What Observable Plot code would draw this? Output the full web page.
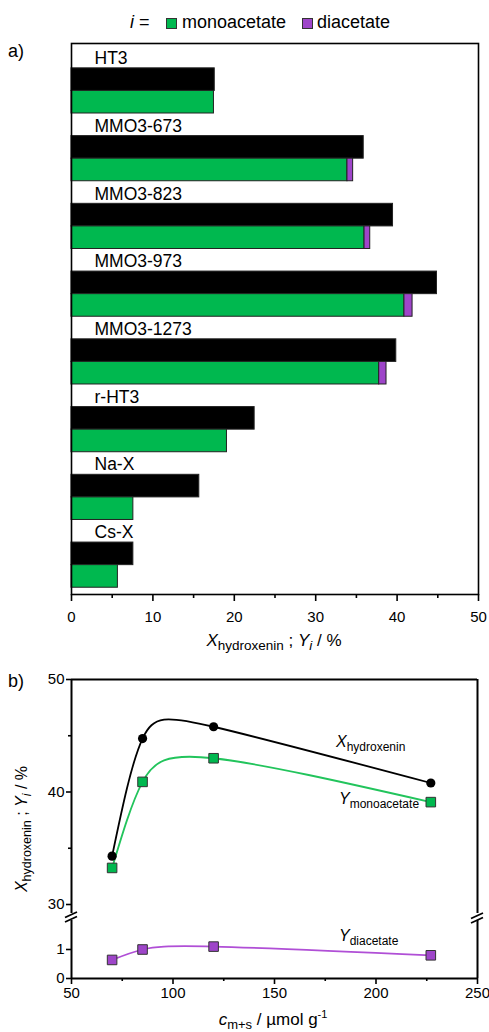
<!DOCTYPE html>
<html><head><meta charset="utf-8">
<script src="https://cdn.jsdelivr.net/npm/d3@7"></script>
<script src="https://cdn.jsdelivr.net/npm/@observablehq/plot@0.6"></script>
<style>
body{margin:0;background:#fff;}
#root{position:relative;width:489px;height:1032px;overflow:hidden;font-family:'Liberation Sans',Arial,sans-serif;color:#000;background:#fff;}
.t{position:absolute;white-space:nowrap;line-height:1;}
svg{overflow:visible;}
</style></head>
<body><div id="root"></div>
<script>
// ---- Panel a data ----
const categories = ["HT3","MMO3-673","MMO3-823","MMO3-973","MMO3-1273","r-HT3","Na-X","Cs-X"];
const conversion = [17.6, 35.9, 39.5, 44.9, 39.9, 22.5, 15.7, 7.6];
const monoYield  = [17.5, 33.9, 36.0, 40.9, 37.8, 19.1, 7.6, 5.7];
const diYield    = [0, 0.7, 0.7, 1.0, 0.9, 0, 0, 0];
const xTicksA = [0, 10, 20, 30, 40, 50];
const xMinorA = [5, 15, 25, 35, 45];

// ---- Panel b data ----
const cms   = [70, 85, 120, 227];
const xHyd  = [34.3, 44.75, 45.8, 40.8];
const yMono = [33.25, 40.9, 43.0, 39.1];
const yDi   = [0.64, 1.0, 1.1, 0.8];
const xTicksB = [50, 100, 150, 200, 250];
const xMinorB = [75, 125, 175, 225];
const yTicksUpper = [30, 40, 50];
const yMinorUpper = [35, 45];
const yTicksLower = [0, 1];

const GREEN = "#00b84f", PURPLE = "#9e45c9", GREEN_LINE = "#22c45c", PURPLE_LINE = "#b04fd6";
const root = document.getElementById("root");
const font = "'Liberation Sans',Arial,sans-serif";

function place(el, top, left) {
  el.style.position = "absolute"; el.style.top = top + "px"; el.style.left = left + "px";
  root.appendChild(el);
}
function text(html, x, baseline, size, anchor, extra) {
  const d = document.createElement("div");
  d.className = "t";
  d.style.fontSize = size + "px";
  d.innerHTML = html;
  d.style.top = (baseline - 0.85 * size) + "px";
  if (anchor === "middle") { d.style.left = x + "px"; d.style.transform = "translateX(-50%)"; }
  else d.style.left = x + "px";
  if (extra) Object.assign(d.style, extra);
  root.appendChild(d);
  return d;
}
const sub = (s, size, shift) => `<span style="font-size:${size}px;position:relative;top:${shift}px">${s}</span>`;

// ---- Panel a ----
const rows = categories.map((c, i) => ({c, i, conv: conversion[i], mono: monoYield[i], di: diYield[i]}));
const plotA = Plot.plot({
  width: 489, height: 620, marginTop: 8, marginBottom: 61, marginLeft: 71, marginRight: 11,
  style: {fontFamily: font, fontSize: "15px", color: "black", background: "transparent"},
  x: {domain: [0, 50]},
  y: {domain: [-0.1, 24.3], reverse: true, axis: null},
  marks: [
    Plot.rect(rows, {x1: 0, x2: "conv", y1: d => 3 * d.i + 1, y2: d => 3 * d.i + 2, fill: "black", stroke: "#222", strokeWidth: 1}),
    Plot.rect(rows, {x1: 0, x2: "mono", y1: d => 3 * d.i + 2, y2: d => 3 * d.i + 3, fill: GREEN, stroke: "#222", strokeWidth: 1}),
    Plot.rect(rows.filter(d => d.di > 0), {x1: "mono", x2: d => d.mono + d.di, y1: d => 3 * d.i + 2, y2: d => 3 * d.i + 3, fill: PURPLE, stroke: "#222", strokeWidth: 1}),
    Plot.text(rows, {x: 0, y: d => 3 * d.i + 0.56, text: "c", textAnchor: "start", dx: 23, fontSize: 17.5, lineAnchor: "middle"}),
    Plot.frame({stroke: "black", strokeWidth: 1.6}),
    Plot.axisX(xTicksA, {tickSize: 7, tickPadding: 10, strokeWidth: 1.6, label: null, fontSize: 15}),
    Plot.axisX(xMinorA, {tickSize: 4, text: null, strokeWidth: 1.6, label: null})
  ]
});
place(plotA, 35, 0);

// ---- Panel b (upper segment) ----
const bRows = cms.map((c, i) => ({c, X: xHyd[i], mono: yMono[i], di: yDi[i]}));
const plotB1 = Plot.plot({
  width: 489, height: 243, marginTop: 9, marginBottom: 0, marginLeft: 71, marginRight: 12,
  style: {fontFamily: font, fontSize: "15px", color: "black", background: "transparent"},
  x: {domain: [50, 250], axis: null},
  y: {domain: [29.2, 50]},
  marks: [
    Plot.ruleY([50], {strokeWidth: 2}),
    Plot.ruleX([50, 250], {strokeWidth: 2}),
    Plot.axisY(yTicksUpper, {tickSize: 5, tickPadding: 2, strokeWidth: 1.6, label: null, fontSize: 15}),
    Plot.axisY(yMinorUpper, {tickSize: 3, text: null, strokeWidth: 1.6, label: null}),
    Plot.line(bRows, {x: "c", y: "X", curve: "natural", stroke: "black", strokeWidth: 1.8}),
    Plot.line(bRows, {x: "c", y: "mono", curve: "natural", stroke: GREEN_LINE, strokeWidth: 1.8}),
    Plot.dot(bRows, {x: "c", y: "X", r: 4.6, fill: "black"}),
    Plot.dot(bRows, {x: "c", y: "mono", symbol: "square", r: 5.4, fill: GREEN, stroke: "#333", strokeWidth: 1})
  ]
});
place(plotB1, 670, 0);

// ---- Panel b (lower segment) ----
const plotB2 = Plot.plot({
  width: 489, height: 117, marginTop: 5, marginBottom: 54, marginLeft: 71, marginRight: 12,
  style: {fontFamily: font, fontSize: "15px", color: "black", background: "transparent"},
  x: {domain: [50, 250]},
  y: {domain: [0, 2.0]},
  marks: [
    Plot.ruleX([50, 250], {strokeWidth: 2}),
    Plot.ruleY([0], {strokeWidth: 2}),
    Plot.axisY(yTicksLower, {tickSize: 5, tickPadding: 2, strokeWidth: 1.6, label: null, fontSize: 15}),
    Plot.axisX(xTicksB, {tickSize: 6, tickPadding: 3, strokeWidth: 1.6, label: null, fontSize: 15}),
    Plot.axisX(xMinorB, {tickSize: 3, text: null, strokeWidth: 1.6, label: null}),
    Plot.line(bRows, {x: "c", y: "di", curve: "natural", stroke: PURPLE_LINE, strokeWidth: 1.8}),
    Plot.dot(bRows, {x: "c", y: "di", symbol: "square", r: 5.4, fill: PURPLE, stroke: "#333", strokeWidth: 1})
  ]
});
place(plotB2, 915, 0);

// ---- axis break marks ----
const ns = "http://www.w3.org/2000/svg";
const brk = document.createElementNS(ns, "svg");
brk.setAttribute("width", 489); brk.setAttribute("height", 1032);
brk.style.position = "absolute"; brk.style.left = "0"; brk.style.top = "0"; brk.style.pointerEvents = "none";
[[65, 917.5, 77, 912], [65, 922, 77, 916.5], [471, 918.5, 483, 913], [471, 923, 483, 917.5]].forEach(([x1, y1, x2, y2]) => {
  const l = document.createElementNS(ns, "line");
  l.setAttribute("x1", x1); l.setAttribute("y1", y1); l.setAttribute("x2", x2); l.setAttribute("y2", y2);
  l.setAttribute("stroke", "black"); l.setAttribute("stroke-width", "1.8");
  brk.appendChild(l);
});
root.appendChild(brk);

// ---- legend ----
text(`<i>i</i> =`, 130, 28, 18);
const sq = (x, c) => { const s = document.createElement("div"); s.style.cssText = `position:absolute;left:${x}px;top:18px;width:9px;height:9px;background:${c};border:1px solid #333;`; root.appendChild(s); };
sq(166, GREEN); text("monoacetate", 182, 28, 18);
sq(302, PURPLE); text("diacetate", 317, 28, 18);

// ---- panel labels ----
text("a)", 8, 57, 18);
text("b)", 8, 687, 18);

// ---- axis titles ----
text(`<i>X</i>${sub("hydroxenin", 13.5, 4)} ; <i>Y</i>${sub("<i>i</i>", 13.5, 4)} / %`, 274, 646, 17, "middle");
text(`<i>c</i>${sub("m+s", 13, 4)} / µmol g${sub("-1", 11, -7)}`, 273, 1025, 17, "middle");
const yt = text(`<i>X</i>${sub("hydroxenin", 12.5, 4)} ; <i>Y</i>${sub("<i>i</i>", 12.5, 4)} / %`, 0, 0, 16);
yt.style.top = "829px"; yt.style.left = "22px";
yt.style.transform = "translate(-50%,-50%) rotate(-90deg)";

// ---- series labels ----
text(`<i>X</i>${sub("hydroxenin", 12, 4)}`, 336, 748, 16);
text(`<i>Y</i>${sub("monoacetate", 12, 4)}`, 339, 805, 16);
text(`<i>Y</i>${sub("diacetate", 12, 4)}`, 339, 942, 16);
</script>
</body></html>
